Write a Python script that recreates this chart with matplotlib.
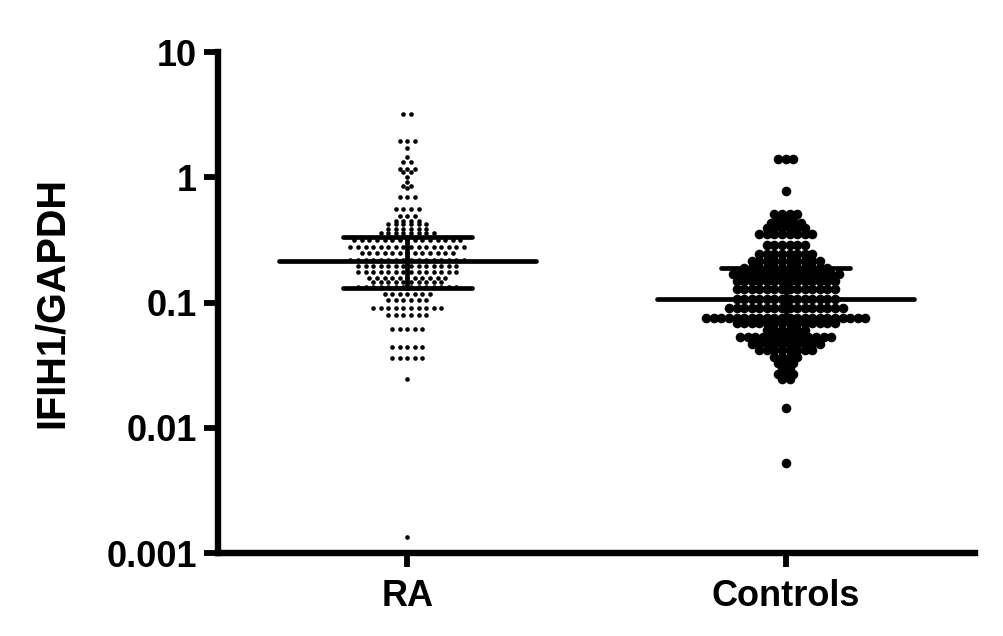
"""Column scatter of IFIH1/GAPDH expression, RA vs controls (log scale)."""

import numpy as np
import matplotlib.pyplot as plt

plt.rcParams['font.family'] = ['Liberation Sans', 'DejaVu Sans']
plt.rcParams['font.weight'] = 'bold'

groups = ['RA', 'Controls']

# row values (IFIH1/GAPDH) and how many dots sit in each row
ra_rows = [3.2, 1.95, 1.71, 1.45, 1.32, 1.16, 1.10, 1.0, 0.91, 0.85, 0.82,
           0.69, 0.555, 0.49, 0.45, 0.42, 0.384, 0.356, 0.313, 0.275, 0.247,
           0.217, 0.194, 0.174, 0.158, 0.145, 0.132, 0.116, 0.104, 0.091,
           0.080, 0.062, 0.0445, 0.0363, 0.0247, 0.00134]
ra_counts = [2, 3, 1, 1, 2, 3, 2, 1, 1, 2, 1,
             3, 4, 3, 4, 6, 6, 8, 15, 16, 13,
             16, 14, 14, 11, 10, 14, 7, 6, 10,
             6, 5, 5, 5, 1, 1]

ctrl_rows = [1.39, 0.77, 0.51, 0.47, 0.43, 0.39, 0.35, 0.29, 0.245, 0.215,
             0.19, 0.168, 0.148, 0.128, 0.106, 0.091, 0.075, 0.068, 0.060,
             0.053, 0.047, 0.042, 0.037, 0.033, 0.030, 0.027, 0.0245,
             0.0145, 0.0052]
ctrl_counts = [3, 1, 4, 3, 5, 6, 8, 6, 8, 10,
               12, 15, 14, 14, 14, 16, 22, 14, 6, 13,
               10, 8, 4, 3, 2, 3, 2,
               1, 1]

# median with interquartile range
medians = [0.215, 0.106]
q1 = [0.13, 0.075]
q3 = [0.335, 0.187]


def swarm_x(center, counts, spacing):
    """Spread each row of dots symmetrically around the group centre."""
    xs = []
    for n in counts:
        xs.extend(center + (np.arange(n) - (n - 1) / 2) * spacing)
    return np.array(xs)


fig = plt.figure(figsize=(10.04, 6.36), dpi=100)
ax = fig.add_axes([0.2171, 0.1305, 0.754, 0.7877])

ra_y = np.repeat(ra_rows, ra_counts)
ctrl_y = np.repeat(ctrl_rows, ctrl_counts)

ax.scatter(swarm_x(0, ra_counts, 0.02), ra_y, s=11, marker='o',
           color='black', linewidths=0, zorder=2)
ax.scatter(swarm_x(1, ctrl_counts, 0.02), ctrl_y, s=48, marker='o',
           color='black', linewidths=0, zorder=2)

# median and IQR bars
for i in range(len(groups)):
    ax.plot([i - 0.34, i + 0.34], [medians[i]] * 2, color='black', lw=3.4, zorder=3,
            solid_capstyle='round')
    for q in (q1[i], q3[i]):
        ax.plot([i - 0.17, i + 0.17], [q, q], color='black', lw=3.4, zorder=3,
                solid_capstyle='round')
    ax.plot([i, i], [q1[i], q3[i]], color='black', lw=3.4, zorder=3)

ax.set_yscale('log')
ax.set_ylim(0.001, 10)
ax.set_xlim(-0.5, 1.5)
ax.set_yticks([0.001, 0.01, 0.1, 1, 10])
ax.set_yticklabels(['0.001', '0.01', '0.1', '1', '10'])
ax.yaxis.set_minor_locator(plt.NullLocator())
ax.set_xticks([0, 1])
ax.set_xticklabels(groups)

ax.set_ylabel('IFIH1/GAPDH', fontsize=28.5, fontweight='bold', labelpad=26)

for side in ('top', 'right'):
    ax.spines[side].set_visible(False)
for side in ('left', 'bottom'):
    ax.spines[side].set_linewidth(4.6)
ax.tick_params(axis='both', length=10, width=4.2, labelsize=26)
ax.tick_params(axis='y', pad=5)
ax.tick_params(axis='x', pad=9)

fig.savefig('out.png', dpi=100)
plt.close(fig)
